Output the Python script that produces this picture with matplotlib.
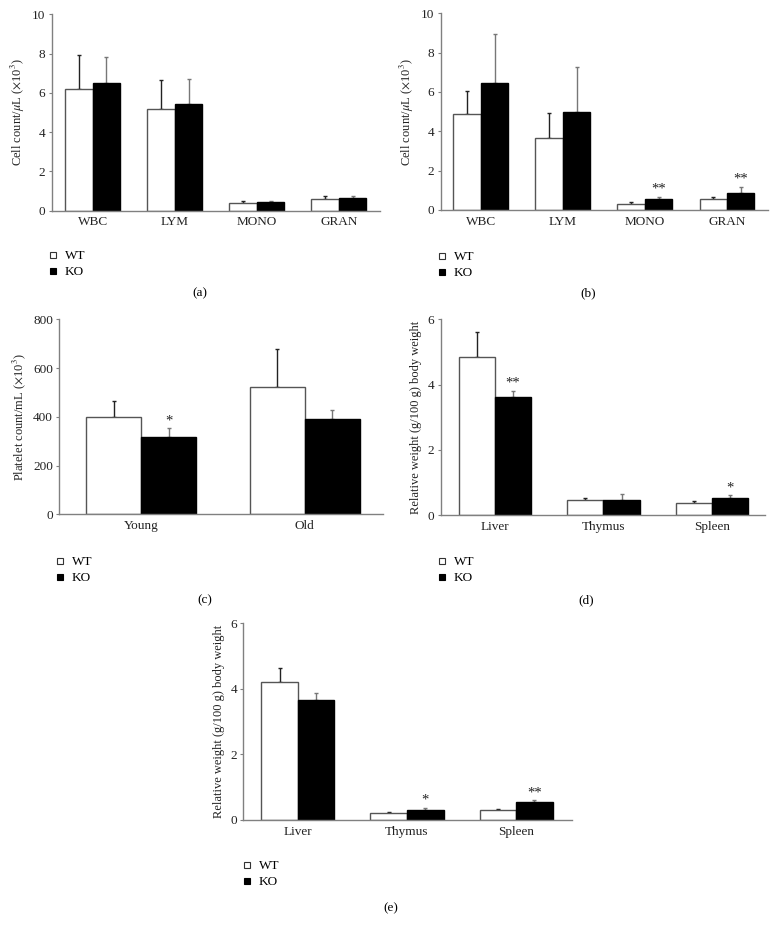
import matplotlib
matplotlib.use("Agg")
import matplotlib.pyplot as plt
from matplotlib.lines import Line2D
import numpy as np

plt.rcParams['font.family'] = ['Liberation Serif', 'DejaVu Serif']
plt.rcParams['mathtext.fontset'] = 'stix'
plt.rcParams['font.size'] = 9

#########################
#         Data          #
#########################

cells = ['WBC', 'LYM', 'MONO', 'GRAN']
organs = ['Liver', 'Thymus', 'Spleen']
ages = ['Young', 'Old']

# (a) blood cell counts
a_wt = [6.18, 5.20, 0.37, 0.58]
a_wt_sd = [1.75, 1.44, 0.14, 0.18]
a_ko = [6.52, 5.42, 0.44, 0.63]
a_ko_sd = [1.32, 1.30, 0.05, 0.13]
a_stars = ['', '', '', '']

# (b) blood cell counts
b_wt = [4.90, 3.64, 0.29, 0.56]
b_wt_sd = [1.17, 1.31, 0.10, 0.10]
b_ko = [6.46, 4.98, 0.56, 0.88]
b_ko_sd = [2.47, 2.27, 0.12, 0.31]
b_stars = ['', '', '**', '**']

# (c) platelets
c_wt = [401, 521]
c_wt_sd = [63, 156]
c_ko = [316, 393]
c_ko_sd = [38, 35]
c_stars = ['*', '']

# (d) organ weights
d_wt = [4.84, 0.45, 0.37]
d_wt_sd = [0.76, 0.07, 0.07]
d_ko = [3.61, 0.47, 0.52]
d_ko_sd = [0.20, 0.18, 0.09]
d_stars = ['**', '', '*']

# (e) organ weights
e_wt = [4.21, 0.21, 0.30]
e_wt_sd = [0.44, 0.04, 0.05]
e_ko = [3.65, 0.30, 0.56]
e_ko_sd = [0.22, 0.08, 0.04]
e_stars = ['', '*', '**']

cell_label = r'Cell count/$\mu$L ($\times$10$^3$)'
plt_label = r'Platelet count/mL ($\times$10$^3$)'
org_label = 'Relative weight (g/100 g) body weight'


#########################
#      Sub Programs     #
#########################

def panel(rect, cats, wt, wt_sd, ko, ko_sd, stars, ymax, ystep, ylabel, letter, leg_xy, xlim):
    ax = fig.add_axes(rect)
    x = np.arange(len(cats))
    w = 0.335
    ax.bar(x - w/2, wt, w, color='white', edgecolor='#555555', linewidth=1.0, zorder=2)
    ax.bar(x + w/2, ko, w, color='black', edgecolor='black', linewidth=1.0, zorder=2)
    ax.errorbar(x - w/2, wt, yerr=[np.zeros(len(wt)), wt_sd], fmt='none',
                ecolor='#222222', elinewidth=1.0, capsize=1.5, capthick=1.0, zorder=1)
    ax.errorbar(x + w/2, ko, yerr=[np.zeros(len(ko)), ko_sd], fmt='none',
                ecolor='#777777', elinewidth=1.0, capsize=1.5, capthick=1.0, zorder=1)
    for i, s in enumerate(stars):
        if s:
            ax.annotate(s, (x[i] + w/2, ko[i] + ko_sd[i]), xytext=(0, 0.5),
                        textcoords='offset points', ha='center', va='bottom', fontsize=10.5,
                        color='#222222')
    ax.set_xlim(*xlim)
    ax.set_ylim(0, ymax)
    ax.set_yticks(np.arange(0, ymax + ystep/2, ystep))
    ax.set_xticks(x)
    ax.set_xticklabels(cats)
    ax.tick_params(axis='x', length=0, pad=4, labelsize=9.5, colors='#222222')
    ax.tick_params(axis='y', length=2.5, width=0.8, pad=2, labelsize=9.5, color='#808080', labelcolor='#222222')
    for sp in ['top', 'right']:
        ax.spines[sp].set_visible(False)
    for sp in ['left', 'bottom']:
        ax.spines[sp].set_color('#808080')
        ax.spines[sp].set_linewidth(1.0)
    ax.set_ylabel(ylabel, fontsize=9, color='#222222', labelpad=4)

    handles = [Line2D([], [], marker='s', ls='', mfc='white', mec='#333333', mew=0.8, ms=5),
               Line2D([], [], marker='s', ls='', mfc='black', mec='black', mew=0.8, ms=5)]
    fig.legend(handles, ['WT', 'KO'], loc='upper left', bbox_to_anchor=leg_xy,
               bbox_transform=fig.transFigure, frameon=False, fontsize=9.5,
               handlelength=0.6, handletextpad=0.6, labelspacing=0.3, borderpad=0,
               borderaxespad=0)
    fig.text(rect[0] + rect[2] * 0.45, letter[1], letter[0], ha='center', va='center', fontsize=9.5)
    return ax


#########################
#       Main Loop       #
#########################

fig = plt.figure(figsize=(7.76, 9.31), dpi=100)
W, H = 776.0, 931.0

def r(x0, x1, y0, y1):
    return [x0 / W, 1 - y1 / H, (x1 - x0) / W, (y1 - y0) / H]

panel(r(51.7, 380, 14.3, 210.7), cells, a_wt, a_wt_sd, a_ko, a_ko_sd, a_stars,
      10, 2, cell_label, ('(a)', 1 - 293 / H), (49 / W, 1 - 250 / H), (-0.5, 3.5))
panel(r(440.7, 768, 13.3, 210), cells, b_wt, b_wt_sd, b_ko, b_ko_sd, b_stars,
      10, 2, cell_label, ('(b)', 1 - 293 / H), (438 / W, 1 - 251 / H), (-0.49, 3.5))
panel(r(59.3, 383.3, 319.3, 514.3), ages, c_wt, c_wt_sd, c_ko, c_ko_sd, c_stars,
      800, 200, plt_label, ('(c)', 1 - 600 / H), (56 / W, 1 - 556 / H), (-0.5, 1.48))
panel(r(440.7, 765, 319.3, 515), organs, d_wt, d_wt_sd, d_ko, d_ko_sd, d_stars,
      6, 2, org_label, ('(d)', 1 - 600 / H), (438 / W, 1 - 556 / H), (-0.5, 2.49))
panel(r(243.3, 571.7, 623.3, 820), organs, e_wt, e_wt_sd, e_ko, e_ko_sd, e_stars,
      6, 2, org_label, ('(e)', 1 - 908 / H), (243 / W, 1 - 860 / H), (-0.5, 2.51))

fig.savefig('out.png', dpi=100)
